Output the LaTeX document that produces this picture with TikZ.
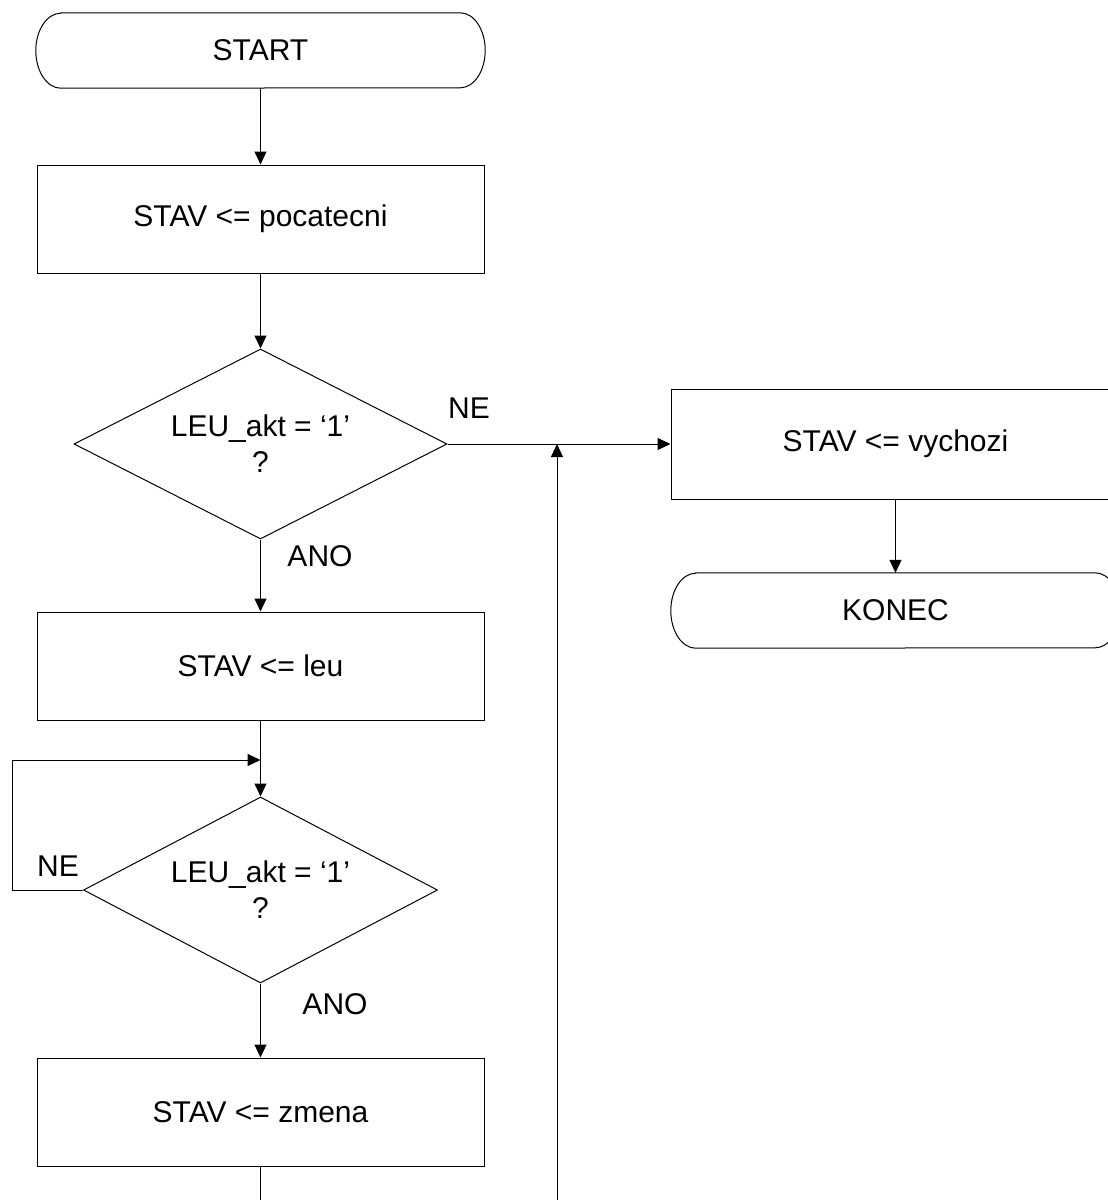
\documentclass[tikz,border=0pt]{standalone}
\usepackage{fontspec}
\setmainfont{Liberation Sans}
\usetikzlibrary{arrows.meta,shapes.geometric}
\newcommand\drawterm[1]{\draw[line width=1pt] ([xshift=25pt]#1.north west) -- ([xshift=-25pt]#1.north east) arc[start angle=90,end angle=-90,x radius=25pt,y radius=37.5pt] -- ([xshift=25pt]#1.south west) arc[start angle=270,end angle=90,x radius=25pt,y radius=37.5pt] -- cycle;}
\begin{document}
\begin{tikzpicture}[x=1pt,y=-1pt,
  every node/.style={font=\fontsize{30}{36}\selectfont},
  box/.style={draw,line width=1pt,minimum width=447pt,minimum height=108pt,inner sep=0pt},
  term/.style={minimum width=449pt,minimum height=75pt,inner sep=0pt},
  dec/.style={draw,diamond,line width=1pt,inner sep=0pt,align=center},
  lbl/.style={inner sep=0pt},
  conn/.style={line width=1pt},
  arr/.style={conn,-{Triangle[length=13pt,width=12pt]}}]
\useasboundingbox (0,0) rectangle (1108,1200);
\clip (0,0) rectangle (1108,1200);

\node[term] (start) at (260.5,50.5) {START};
\drawterm{start}
\node[box] (b1) at (260.5,219) {STAV <= pocatecni};
\node[dec,minimum width=373pt,minimum height=190pt,aspect=1.96] (d1) at (260.5,444) {LEU\_akt = ‘1’\\?};
\node[box,minimum width=449pt,minimum height=110pt] (vy) at (895.5,444) {STAV <= vychozi};
\node[term] (ko) at (895.5,610.5) {KONEC};
\drawterm{ko}
\node[box] (leu) at (260.5,666) {STAV <= leu};
\node[dec,minimum width=354pt,minimum height=186pt,aspect=1.9] (d2) at (260.5,890) {LEU\_akt = ‘1’\\?};
\node[box] (zm) at (260.5,1112) {STAV <= zmena};

\node[lbl] (ne1) at (469,408) {NE};
\node[lbl] (ano1) at (320,556) {ANO};
\node[lbl] (ne2) at (58,866) {NE};
\node[lbl] (ano2) at (335,1004) {ANO};

\coordinate (ret) at (557,1200);
\coordinate (zb) at (260.5,1200);
\coordinate (lp) at (12,760);

\draw[arr] (start) -- (b1);
\draw[arr] (b1) -- (d1);
\draw[arr] (d1.east) -- (vy.west |- d1.east);
\draw[arr] (ret) -- (ret |- d1.east);
\draw[arr] (vy) -- (ko);
\draw[arr] (d1.south) -- (leu.north);
\draw[arr] (leu) -- (d2);
\draw[arr] (d2.west) -| (lp) -- (lp -| d2.north);
\draw[arr] (d2.south) -- (zm.north);
\draw[conn] (zm.south) -- (zb);
\end{tikzpicture}
\end{document}
